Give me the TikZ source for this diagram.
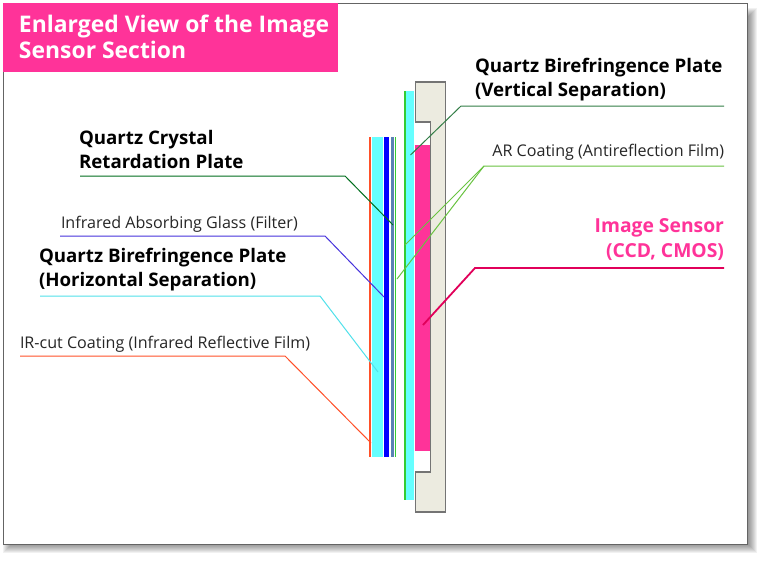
\documentclass[tikz,border=0pt]{standalone}
\usepackage{fontspec}
\setmainfont{Open Sans}
\definecolor{sensorpink}{RGB}{255,51,153}
\definecolor{housing}{RGB}{236,235,224}
\definecolor{framegray}{RGB}{100,100,100}
\definecolor{platecyan}{RGB}{102,255,255}
\definecolor{platesteel}{RGB}{90,130,180}
\definecolor{filmgreen}{RGB}{51,204,51}
\definecolor{filmred}{RGB}{255,80,40}
\definecolor{leaddark}{RGB}{50,125,70}
\definecolor{leadgreen}{RGB}{105,195,65}
\definecolor{leadforest}{RGB}{0,110,30}
\definecolor{leadblue}{RGB}{70,50,220}
\definecolor{leadcyan}{RGB}{80,225,235}
\definecolor{leadcrimson}{RGB}{225,0,90}
\begin{document}
\begin{tikzpicture}[
    x=1pt, y=-1pt,
    every node/.style={inner sep=0pt, outer sep=0pt},
    small/.style={font=\fontsize{16.1}{24}\selectfont, align=left, text=black!85},
    big/.style={font=\fontsize{18.7}{24.5}\selectfont\bfseries, align=left},
    leader/.style={line width=1pt}
]
\useasboundingbox (0,0) rectangle (763,560);
% shadow and frame
\foreach \d in {0,1,...,9}
    \fill[black, opacity=0.055] (3+\d,8+\d) rectangle (757-\d,553-\d);
\draw[framegray, fill=white, line width=1pt] (3.5,3.5) rectangle (747.5,544);
% title
\node[fill=sensorpink, minimum width=335pt, minimum height=69pt, anchor=north west] (titlebox) at (3,3) {};
\node[font=\fontsize{22.9}{26.5}\selectfont\bfseries, text=white, align=left, anchor=north west] (title) at (19,14.5) {Enlarged View of the Image\\Sensor Section};
% housing and sensor
\draw[framegray!90, fill=housing, line width=1.2pt] (415.5,82) -- (445.5,82) -- (445.5,512) -- (415.5,512) -- (415.5,472) -- (430.5,472) -- (430.5,122) -- (415.5,122) -- cycle;
\fill[sensorpink] (415,145) rectangle (430,451);
% right stack
\fill[filmgreen] (403.8,91) rectangle (405.8,500);
\fill[platecyan] (405.8,91) rectangle (414,500);
% left stack
\fill[filmred] (369.2,137) rectangle (371.4,457);
\fill[platecyan] (371.8,137) rectangle (383,457);
\fill[blue] (384.3,137) rectangle (389,457);
\fill[platesteel] (391.3,137) rectangle (394.4,457);
\fill[filmgreen] (394.8,137) rectangle (396.4,457);
% leaders
\coordinate (verticalend) at (410.5,155);
\coordinate (arknee) at (484,166);
\draw[leader, leaddark] (724,106) -- (461,106) -- (verticalend);
\draw[leader, leadgreen] (724,166) -- (arknee) -- (405,245);
\draw[leader, leadgreen] (arknee) -- (397,279);
\draw[leader, leadforest] (80,176) -- (345,176) -- (393,225);
\draw[leader, leadblue] (60,236) -- (325,236) -- (384,297);
\draw[leader, leadcyan] (40,296) -- (320,296) -- (378,372);
\draw[leader, filmred] (20,356) -- (285,356) -- (371,443);
\draw[line width=1.8pt, leadcrimson] (724,268) -- (475,268) -- (423,325);
% labels
\node[big, anchor=north west] (vertical) at (475,58) {Quartz Birefringence Plate\\(Vertical Separation)};
\node[small, anchor=base east] (coating) at (724,156) {AR Coating (Antireflection Film)};
\node[big, font=\fontsize{19.3}{24.5}\selectfont\bfseries, anchor=base east, text=sensorpink, align=right] (sensor) at (724,257) {Image Sensor~\\(CCD, CMOS)};
\node[big, anchor=north west] (retardation) at (79,130) {Quartz Crystal\\Retardation Plate};
\node[small, anchor=base west] (glass) at (61,228) {Infrared Absorbing Glass (Filter)};
\node[big, anchor=north west] (horizontal) at (39,248) {Quartz Birefringence Plate\\(Horizontal Separation)};
\node[small, anchor=base west] (ircut) at (20,348) {IR-cut Coating (Infrared Reflective Film)};
\end{tikzpicture}
\end{document}
